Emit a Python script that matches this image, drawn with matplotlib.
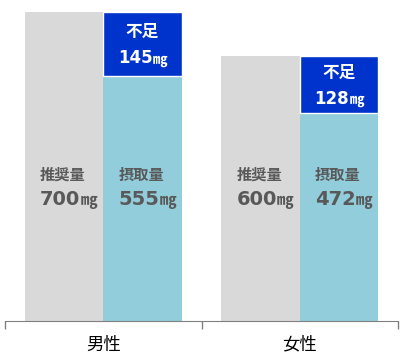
import matplotlib
matplotlib.use("Agg")
import matplotlib.pyplot as plt
from matplotlib.ticker import FixedLocator

plt.rcParams['font.family'] = ['Noto Sans CJK JP', 'DejaVu Sans']

categories = ["男性", "女性"]
recommended = [700, 600]
intake = [555, 472]
deficit = [r - i for r, i in zip(recommended, intake)]
label_rec = "推奨量"
label_int = "摂取量"
label_def = "不足"
unit = "㎎"

W, H = 403, 359
fig = plt.figure(figsize=(W / 100, H / 100), dpi=100)
ax = fig.add_axes([5 / W, (H - 321) / H, 393 / W, 316 / H])

x = list(range(len(categories)))
bw = 0.4
gray = "#D9D9D9"
lblue = "#92CDDC"
dblue = "#0033CC"
txt = "#595959"

xg = [i - bw / 2 for i in x]
xb = [i + bw / 2 for i in x]
ax.bar(xg, recommended, width=bw, color=gray, linewidth=0)
ax.bar(xb, intake, width=bw, color=lblue, linewidth=0)
ax.bar(xb, deficit, bottom=intake, width=bw, color=dblue,
       edgecolor="white", linewidth=1)

ax.set_xlim(-0.5, 1.5)
ax.set_ylim(0, 316 / (309 / 700))

num_font = ['DejaVu Sans']
fig.canvas.draw()
r = fig.canvas.get_renderer()


def num_with_unit(xy, dx, dy, value, size, usize, color, ha):
    t = ax.annotate(f"{value}", xy=xy, xytext=(dx, dy), textcoords="offset points",
                    ha="left", va="baseline", fontsize=size, fontweight="bold",
                    color=color, family=num_font)
    u = ax.annotate(unit, xy=xy, xytext=(dx, dy), textcoords="offset points",
                    ha="left", va="baseline", fontsize=usize, fontweight="bold",
                    color=color)
    bt = t.get_window_extent(r)
    bu = u.get_window_extent(r)
    wt = (bt.x1 - bt.x0) * 72 / fig.dpi
    wu = (bu.x1 - bu.x0) * 72 / fig.dpi
    start = dx - (wt + wu) / 2 if ha == "center" else dx
    t.xyann = (start, dy)
    u.xyann = (start + wt + 0.3, dy)


for i in x:
    for xx, lab, val in ((xg[i], label_rec, recommended[i]), (xb[i], label_int, intake[i])):
        ax.annotate(lab, xy=(xx - bw / 2, 331), xytext=(11, 0), textcoords="offset points",
                    ha="left", va="center", fontsize=11, fontweight="bold", color=txt)
        num_with_unit((xx - bw / 2, 281), 11, -5.5, val, 14, 12, txt, "left")
    mid = intake[i] + deficit[i] / 2
    ax.annotate(label_def, xy=(xb[i], mid), xytext=(0, 8.5), textcoords="offset points",
                ha="center", va="center", fontsize=12, fontweight="bold", color="white")
    num_with_unit((xb[i], mid), 0, -14, deficit[i], 12, 10.5, "white", "center")

for s in ["top", "right", "left"]:
    ax.spines[s].set_visible(False)
ax.spines["bottom"].set_color("#808080")
ax.set_yticks([])
ax.xaxis.set_major_locator(FixedLocator([-0.5, 0.5, 1.5]))
ax.set_xticklabels([])
ax.tick_params(axis="x", length=6, color="#808080", width=1)
for i, c in zip(x, categories):
    ax.annotate(c, xy=(i, 0), xytext=(0, -17), textcoords="offset points",
                ha="center", va="center", fontsize=12.5, color="black")

fig.savefig("out.png", dpi=100)
